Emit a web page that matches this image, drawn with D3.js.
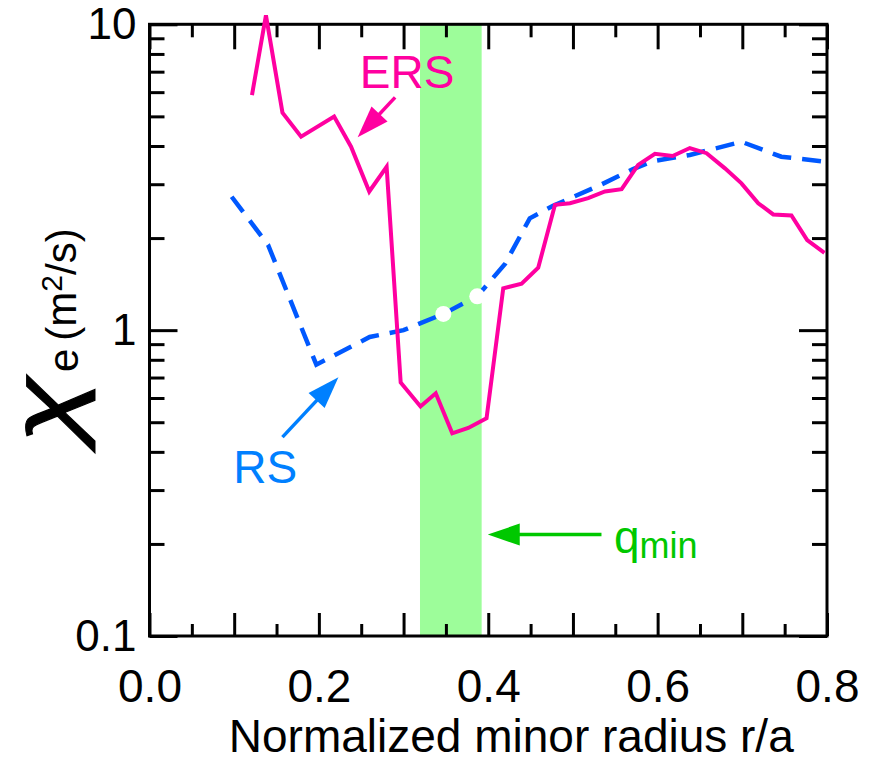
<!DOCTYPE html>
<html>
  <head>
    <meta charset="utf-8">
    <title>Electron thermal diffusivity, ERS vs RS</title>
    <script src="https://d3js.org/d3.v7.min.js"></script>
    <style>
      body { margin: 0; background: #fff; }
      text { font-family: "Liberation Sans", Arial, sans-serif; }
    </style>
  </head>
  <body>
    <svg width="873" height="773"></svg>

    <script>
      // ERS profile (solid magenta)
      var ersR   = [0.121, 0.1375, 0.157, 0.179, 0.218, 0.238, 0.2595, 0.280, 0.2966, 0.320, 0.338, 0.3575,
                    0.3764, 0.398, 0.4177, 0.4394, 0.459, 0.4788, 0.4965, 0.518, 0.5378, 0.5575, 0.577,
                    0.5968, 0.6177, 0.638, 0.6578, 0.6795, 0.699, 0.7188, 0.7365, 0.758, 0.7766, 0.797];
      var ersChi = [5.87, 10.7, 5.14, 4.29, 4.99, 3.98, 2.84, 3.42, 0.674, 0.563, 0.622, 0.460,
                    0.479, 0.515, 1.37, 1.42, 1.60, 2.57, 2.60, 2.70, 2.84, 2.89, 3.47,
                    3.77, 3.71, 3.94, 3.79, 3.38, 3.02, 2.60, 2.39, 2.37, 1.97, 1.79];

      // RS profile (dashed blue)
      var rsR   = [0.097, 0.140, 0.197, 0.26, 0.30, 0.347, 0.387, 0.42, 0.449, 0.4765, 0.532, 0.571,
                   0.593, 0.638, 0.699, 0.746, 0.7955];
      var rsChi = [2.73, 1.9, 0.771, 0.95, 1.0, 1.13, 1.29, 1.65, 2.32, 2.55, 2.98, 3.36,
                   3.56, 3.74, 4.13, 3.69, 3.56];

      // white markers on the RS curve
      var dotR   = [0.347, 0.387];
      var dotChi = [1.13, 1.29];

      // q_min band
      var qminBand = [0.3194, 0.3922];

      // tick values
      var xMajor = [0, 0.1, 0.2, 0.3, 0.4, 0.5, 0.6, 0.7, 0.8];
      var xMinor = [0.05, 0.15, 0.25, 0.35, 0.45, 0.55, 0.65, 0.75];
      var xLabels = [0, 0.2, 0.4, 0.6, 0.8];
      var yMajor = [0.1, 1, 10];
      var yMinor = [0.2, 0.3, 0.4, 0.5, 0.6, 0.7, 0.8, 0.9, 2, 3, 4, 5, 6, 7, 8, 9];

      var svg = d3.select("svg");
      var pL = 149.5, pR = 827, pT = 24.3, pB = 636;

      var x = d3.scaleLinear().domain([0, 0.8]).range([pL, pR]);
      var y = d3.scaleLog().domain([0.1, 10]).range([pB, pT]);

      // green band
      svg.append("rect")
        .attr("x", x(qminBand[0]))
        .attr("y", pT)
        .attr("width", x(qminBand[1]) - x(qminBand[0]))
        .attr("height", pB - pT)
        .attr("fill", "#9dfd9a");

      // axes, ticks pointing inward on all four sides
      function noLabel() { return ""; }
      function addAxis(axis, tx, ty) {
        var g = svg.append("g")
          .attr("transform", "translate(" + tx + "," + ty + ")")
          .call(axis);
        g.select(".domain").remove();
        g.selectAll(".tick line").attr("stroke", "#000").attr("stroke-width", 3);
        return g;
      }

      addAxis(d3.axisBottom(x).tickValues(xMajor).tickSize(-23).tickFormat(noLabel), 0, pB);
      addAxis(d3.axisBottom(x).tickValues(xMinor).tickSize(-12).tickFormat(noLabel), 0, pB);
      addAxis(d3.axisTop(x).tickValues(xMajor).tickSize(-25).tickFormat(noLabel), 0, pT);
      addAxis(d3.axisTop(x).tickValues(xMinor).tickSize(-13).tickFormat(noLabel), 0, pT);
      addAxis(d3.axisLeft(y).tickValues(yMajor).tickSize(-28).tickFormat(noLabel), pL, 0);
      addAxis(d3.axisLeft(y).tickValues(yMinor).tickSize(-15).tickFormat(noLabel), pL, 0);
      addAxis(d3.axisRight(y).tickValues(yMajor).tickSize(-28).tickFormat(noLabel), pR, 0);
      addAxis(d3.axisRight(y).tickValues(yMinor).tickSize(-15).tickFormat(noLabel), pR, 0);

      // tick labels
      var xl = addAxis(d3.axisBottom(x).tickValues(xLabels).tickSize(0).tickPadding(33)
        .tickFormat(d3.format(".1f")), 0, pB);
      xl.selectAll("text").attr("font-size", 46).attr("fill", "#000")
        .attr("font-family", "Liberation Sans, Arial, sans-serif");

      var yl = addAxis(d3.axisLeft(y).tickValues(yMajor).tickSize(0).tickPadding(13)
        .tickFormat(function(d) { return d < 1 ? "0.1" : String(d); }), pL, 0);
      yl.selectAll("text").attr("font-size", 44).attr("fill", "#000")
        .attr("font-family", "Liberation Sans, Arial, sans-serif");

      // frame
      svg.append("rect")
        .attr("x", pL).attr("y", pT)
        .attr("width", pR - pL).attr("height", pB - pT)
        .attr("fill", "none").attr("stroke", "#000").attr("stroke-width", 3);

      // curves
      var line = d3.line()
        .x(function(d) { return x(d[0]); })
        .y(function(d) { return y(d[1]); });

      svg.append("path")
        .datum(d3.zip(rsR, rsChi))
        .attr("d", line)
        .attr("fill", "none")
        .attr("stroke", "#0058ff")
        .attr("stroke-width", 4.5)
        .attr("stroke-dasharray", "19,11");

      svg.append("path")
        .datum(d3.zip(ersR, ersChi))
        .attr("d", line)
        .attr("fill", "none")
        .attr("stroke", "#ff00a0")
        .attr("stroke-width", 4)
        .attr("stroke-linejoin", "miter");

      svg.selectAll(".dot")
        .data(d3.zip(dotR, dotChi))
        .enter().append("circle")
        .attr("class", "dot")
        .attr("cx", function(d) { return x(d[0]); })
        .attr("cy", function(d) { return y(d[1]); })
        .attr("r", 8)
        .attr("fill", "#fff");

      // annotation arrows (data coordinates)
      function arrow(from, to, color) {
        var x1 = x(from[0]), y1 = y(from[1]), x2 = x(to[0]), y2 = y(to[1]);
        var dx = x2 - x1, dy = y2 - y1, len = Math.sqrt(dx * dx + dy * dy);
        var ux = dx / len, uy = dy / len, hl = 32, hw = 11;
        var bx = x2 - ux * hl, by = y2 - uy * hl;
        svg.append("line")
          .attr("x1", x1).attr("y1", y1).attr("x2", bx + ux * 2).attr("y2", by + uy * 2)
          .attr("stroke", color).attr("stroke-width", 3.5);
        svg.append("polygon")
          .attr("points", [[x2, y2], [bx - uy * hw, by + ux * hw], [bx + uy * hw, by - ux * hw]]
            .map(function(p) { return p.join(","); }).join(" "))
          .attr("fill", color);
      }

      arrow([0.290, 5.77], [0.2458, 4.27], "#ff00a0");
      arrow([0.157, 0.447], [0.2231, 0.702], "#0080ff");
      arrow([0.5337, 0.2146], [0.3994, 0.2146], "#00c800");

      svg.append("text")
        .attr("x", x(0.2484)).attr("y", y(6.19))
        .attr("font-size", 46).attr("fill", "#ff00a0")
        .text("ERS");

      svg.append("text")
        .attr("x", x(0.099)).attr("y", y(0.317))
        .attr("font-size", 46).attr("fill", "#0080ff")
        .text("RS");

      var qt = svg.append("text")
        .attr("x", x(0.5484)).attr("y", y(0.187))
        .attr("font-size", 46).attr("fill", "#00c800");
      qt.append("tspan").text("q");
      qt.append("tspan").attr("font-size", 36).attr("dy", 5).text("min");

      // axis titles
      svg.append("text")
        .attr("x", (pL + pR) / 2 + 23).attr("y", 752)
        .attr("text-anchor", "middle")
        .attr("font-size", 46)
        .text("Normalized minor radius r/a");

      var yt = svg.append("g").attr("transform", "translate(76,452) rotate(-90)");
      yt.append("text")
        .attr("x", 6).attr("y", 0)
        .attr("transform", "scale(1.35,1)")
        .attr("font-family", "Liberation Serif, serif")
        .attr("font-style", "italic")
        .attr("font-size", 92)
        .attr("stroke", "#000")
        .attr("stroke-width", 1)
        .text("χ");
      var yt2 = yt.append("text").attr("x", 80).attr("y", 0).attr("font-size", 42);
      yt2.append("tspan").attr("dy", 2).text("e");
      yt2.append("tspan").attr("dx", 8).attr("dy", -2).text("(m");
      yt2.append("tspan").attr("font-size", 30).attr("dy", -14).text("2");
      yt2.append("tspan").attr("dy", 14).text("/s)");
    </script>
  </body>
</html>
